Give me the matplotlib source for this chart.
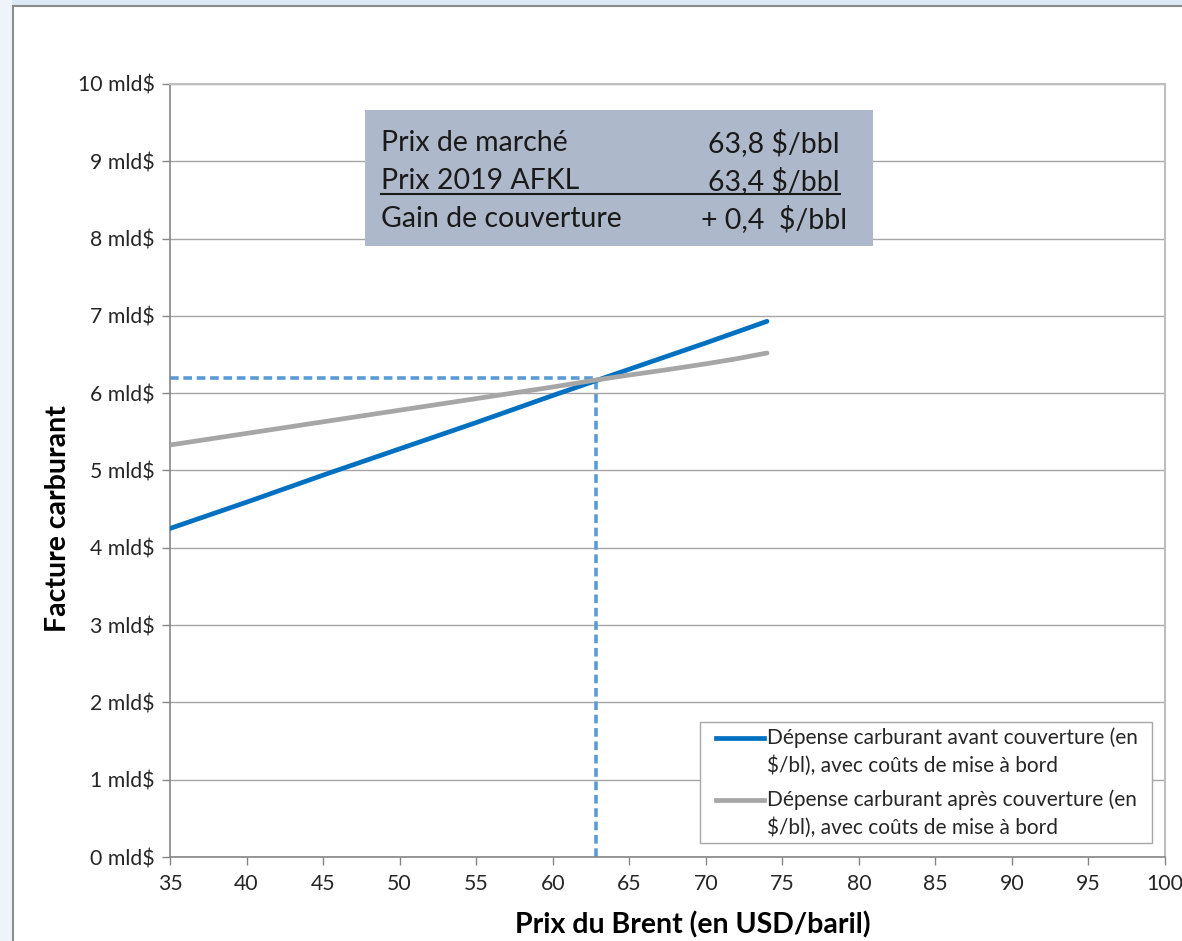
import matplotlib
matplotlib.use("Agg")
import matplotlib.pyplot as plt
from matplotlib.patches import Rectangle
from matplotlib.lines import Line2D

plt.rcParams['font.family'] = ['Lato', 'DejaVu Sans']

# Data
brent = [35, 40, 45, 50, 55, 60, 65, 70, 74]
avant = [4.25, 4.59, 4.94, 5.28, 5.62, 5.97, 6.31, 6.65, 6.93]
apres_x = [35, 40, 45, 50, 55, 60, 62.8, 65, 67.5, 70, 72, 74]
apres = [5.33, 5.48, 5.63, 5.78, 5.93, 6.08, 6.17, 6.235, 6.305, 6.38, 6.445, 6.52]
cross_x = 62.8
cross_y = 6.2
xticks = list(range(35, 101, 5))
yticks = list(range(0, 11))
ytick_labels = [f"{v} mld$" for v in yticks]
legend_labels = ["Dépense carburant avant couverture (en\n$/bl), avec coûts de mise à bord",
                 "Dépense carburant après couverture (en\n$/bl), avec coûts de mise à bord"]
box_rows = [("Prix de marché", "63,8 $/bbl"),
            ("Prix 2019 AFKL", "63,4 $/bbl"),
            ("Gain de couverture", "+ 0,4  $/bbl")]

W, H = 1182, 941
fig = plt.figure(figsize=(W / 100, H / 100), dpi=100)
fig.patch.set_facecolor('white')


def fx(px):
    return px / W


def fy(py):
    return 1 - py / H


# outer frame decorations
fig.patches.append(Rectangle((0, fy(5)), 1, 5 / H, transform=fig.transFigure,
                             facecolor='#DCEAF6', edgecolor='none', zorder=0))
fig.patches.append(Rectangle((0, 0), fx(12), 1, transform=fig.transFigure,
                             facecolor='#EEF4FA', edgecolor='none', zorder=0))
fig.lines.append(Line2D([fx(13), 1], [fy(5.5), fy(5.5)], transform=fig.transFigure,
                        color='#8C8C8C', lw=1.5))
fig.lines.append(Line2D([fx(13), fx(13)], [0, fy(5.5)], transform=fig.transFigure,
                        color='#8C8C8C', lw=1.5))

ax = fig.add_axes([fx(170), fy(857), (1165 - 170) / W, (857 - 84) / H])
ax.set_xlim(35, 100)
ax.set_ylim(0, 10)
ax.set_xticks(xticks)
ax.set_yticks(yticks)
ax.set_yticklabels(ytick_labels)
ax.tick_params(axis='both', direction='out', length=6, width=1, color='#868686',
               labelsize=15.3, labelcolor='#262626')
ax.tick_params(axis='x', pad=6)
ax.tick_params(axis='y', pad=5)
ax.grid(axis='y', color='#A6A6A6', lw=1)
ax.set_axisbelow(True)
for s in ['left', 'bottom']:
    ax.spines[s].set_color('#868686')
    ax.spines[s].set_linewidth(1.2)
for s in ['top', 'right']:
    ax.spines[s].set_color('#BFBFBF')
    ax.spines[s].set_linewidth(1.5)

# dashed guides
ax.plot([35, cross_x], [cross_y, cross_y], color='#5B9BD5', lw=2.6, ls=(0, (2.4, 1.3)), zorder=2)
ax.plot([cross_x, cross_x], [0, cross_y], color='#5B9BD5', lw=2.6, ls=(0, (2.4, 1.3)), zorder=2)

l1, = ax.plot(brent, avant, color='#0070C0', lw=3.4, solid_capstyle='round', zorder=3)
l2, = ax.plot(apres_x, apres, color='#A6A6A6', lw=3.4, solid_capstyle='round', zorder=3)

# legend (manual, handle aligned with first text line as in the original)
fig.patches.append(Rectangle((fx(700), fy(843)), (1152 - 700) / W, (843 - 722) / H,
                             transform=fig.transFigure, facecolor='white',
                             edgecolor='#A6A6A6', lw=1, zorder=6))
for line, label, yy in zip([l1, l2], legend_labels, [738, 800]):
    fig.lines.append(Line2D([fx(716), fx(764)], [fy(yy), fy(yy)], transform=fig.transFigure,
                            color=line.get_color(), lw=3.4, zorder=7))
    l_a, l_b = label.split("\n")
    fig.text(fx(767), fy(yy), l_a, fontsize=15, color='#262626', ha='left', va='center', zorder=7)
    fig.text(fx(767), fy(yy + 28), l_b, fontsize=15, color='#262626', ha='left', va='center', zorder=7)

# info box
fig.patches.append(Rectangle((fx(365), fy(246)), (873 - 365) / W, (246 - 110) / H,
                             transform=fig.transFigure, facecolor='#ADB9CA',
                             edgecolor='none', zorder=5))
row_y = [143, 181, 219]
right_x = [840, 840, 847]
for (lt, rt), yy, rx in zip(box_rows, row_y, right_x):
    fig.text(fx(381), fy(yy), lt, fontsize=20.5, color='#1A1A1A', va='center', ha='left', zorder=6)
    fig.text(fx(rx), fy(yy), rt, fontsize=20.5, color='#1A1A1A', va='center', ha='right', zorder=6)
fig.lines.append(Line2D([fx(381), fx(840)], [fy(194), fy(194)], transform=fig.transFigure,
                        color='#1A1A1A', lw=1.5, zorder=6))

fig.text(fx(693), fy(925), "Prix du Brent (en USD/baril)", fontsize=20.5, fontweight='bold',
         ha='center', va='center', color='black')
fig.text(fx(58), fy(519), "Facture carburant", fontsize=20.5, fontweight='bold',
         ha='center', va='center', rotation=90, color='black')

fig.savefig("out.png", dpi=100)
